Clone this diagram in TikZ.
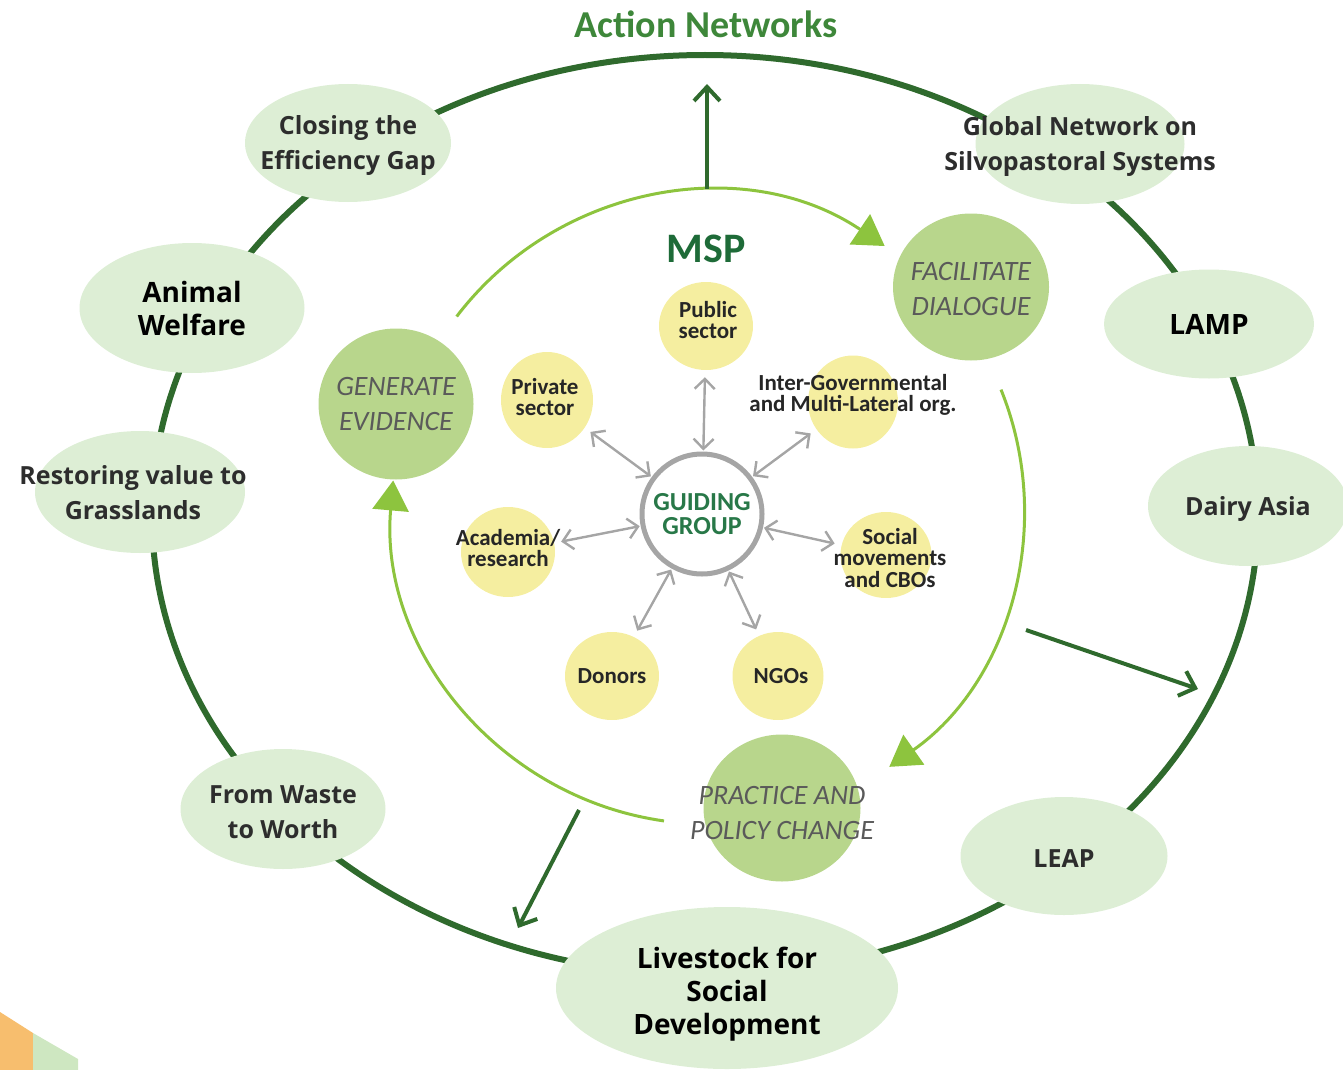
\documentclass[tikz,border=0pt]{standalone}
\usepackage{fontspec}
\setmainfont{Carlito}
\newfontfamily\netfont{Open Sans}
\usetikzlibrary{shapes.geometric,arrows.meta,positioning}
\definecolor{netgreen}{RGB}{47,106,45}
\definecolor{ringfill}{RGB}{221,238,213}
\definecolor{phasefill}{RGB}{184,214,140}
\definecolor{partyfill}{RGB}{245,238,160}
\definecolor{cyclegreen}{RGB}{141,196,62}
\definecolor{titlegreen}{RGB}{62,135,58}
\definecolor{mspgreen}{RGB}{30,107,56}
\definecolor{guidegreen}{RGB}{40,120,72}
\definecolor{linkgray}{RGB}{165,165,165}
\definecolor{textgray}{RGB}{45,45,45}
\definecolor{phasegray}{RGB}{90,90,90}
\definecolor{cornerorange}{RGB}{247,190,110}
\definecolor{cornergreen}{RGB}{206,231,193}
\tikzset{
	netline/.style={draw=netgreen, line width=6pt},
	ringnode/.style={ellipse, fill=ringfill, inner sep=0pt},
	phasenode/.style={ellipse, fill=phasefill, inner sep=0pt},
	partynode/.style={ellipse, fill=partyfill, inner sep=0pt},
	ringlbl/.style={font=\netfont\bfseries\fontsize{25}{35}\selectfont, text=textgray, align=center, yshift=-3pt},
	ringbold/.style={font=\netfont\bfseries\fontsize{28}{33}\selectfont, text=black, align=center},
	phaselbl/.style={font=\itshape\fontsize{28}{35}\selectfont, text=phasegray, align=center},
	partylbl/.style={font=\bfseries\fontsize{23}{21.5}\selectfont, text=black!85, align=center},
	cyclearrow/.style={draw=cyclegreen, line width=3pt, -{Triangle[length=30pt,width=36pt]}},
	outarrow/.style={draw=netgreen, line width=4pt, -{Straight Barb[length=14pt,width=26pt]}},
	linkarrow/.style={draw=linkgray, line width=2.4pt, {Straight Barb[length=10pt,width=20pt]}-{Straight Barb[length=10pt,width=20pt]}, shorten >=7pt, shorten <=1pt},
}
\begin{document}
\begin{tikzpicture}[x=1pt,y=1pt]
	\useasboundingbox (0,0) rectangle (1343,-1070);
	\fill[cornerorange] (0,-1012) -- (33,-1033) -- (33,-1070) -- (0,-1070) -- cycle;
	\fill[cornergreen] (33,-1033) -- (78,-1059) -- (78,-1070) -- (33,-1070) -- cycle;

	\coordinate (hub) at (705,-515);
	\draw[netline] (hub) ellipse [x radius=553, y radius=460];
	\node[font=\bfseries\fontsize{38}{40}\selectfont, text=titlegreen] (title) at (706,-24) {Action Networks};

	\node[ringnode, minimum width=206pt, minimum height=118pt, label={[ringlbl]center:Closing the\\Efficiency Gap}] (closing) at (348,-143) {};
	\node[ringnode, minimum width=209pt, minimum height=120pt, label={[ringlbl]center:Global Network on\\Silvopastoral Systems}] (global) at (1080,-144) {};
	\node[ringnode, minimum width=225pt, minimum height=130pt, label={[ringbold]center:Animal\\Welfare}] (animal) at (192,-308) {};
	\node[ringnode, minimum width=210pt, minimum height=109pt, label={[ringbold]center:LAMP}] (lamp) at (1209,-324) {};
	\node[ringnode, minimum width=210pt, minimum height=122pt, label={[ringlbl, xshift=-7pt, yshift=2pt]center:Restoring value to\\Grasslands}] (grass) at (140,-492) {};
	\node[ringnode, minimum width=200pt, minimum height=120pt, label={[ringlbl]center:Dairy Asia}] (dairy) at (1248,-506) {};
	\node[ringnode, minimum width=205pt, minimum height=120pt, label={[ringlbl]center:From Waste\\to Worth}] (waste) at (283,-809) {};
	\node[ringnode, minimum width=207pt, minimum height=118pt, label={[ringlbl]center:LEAP}] (leap) at (1064,-856) {};
	\node[ringnode, minimum width=342pt, minimum height=162pt, label={[ringbold, yshift=-6pt]center:Livestock for\\Social\\Development}] (social-dev) at (727,-988) {};

	\coordinate (msp) at (708,-508);
	\draw[cyclearrow] ([shift={(142.7:316)}]msp) arc[start angle=142.7, end angle=56, radius=316];
	\draw[cyclearrow] ([shift={(22:316)}]msp) arc[start angle=22, end angle=-55, radius=316];
	\draw[cyclearrow] ([shift={(262:316)}]msp) arc[start angle=262, end angle=175, radius=316];

	\node[font=\bfseries\fontsize{42}{44}\selectfont, text=mspgreen] (msp-title) at (706,-249) {MSP};

	\node[phasenode, minimum width=155pt, minimum height=151pt, label={[phaselbl]center:GENERATE\\EVIDENCE}] (generate) at (396,-404) {};
	\node[phasenode, minimum width=156pt, minimum height=147pt, label={[phaselbl, yshift=-2pt]center:FACILITATE\\DIALOGUE}] (facilitate) at (971,-287) {};
	\node[phasenode, minimum width=157pt, minimum height=147pt, label={[phaselbl, yshift=-5pt]center:PRACTICE AND\\POLICY CHANGE}] (practice) at (782,-808) {};

	\node[partynode, minimum width=94pt, minimum height=88pt, label={[partylbl, xshift=2pt, yshift=6pt]center:Public\\sector}] (public) at (706,-326) {};
	\node[partynode, minimum width=92pt, minimum height=96pt, label={[partylbl, xshift=-2pt, yshift=3pt]center:Private\\sector}] (private) at (547,-400) {};
	\node[partynode, minimum width=90pt, minimum height=93pt, label={[partylbl, yshift=7pt]center:Inter-Governmental\\and Multi-Lateral org.}] (intergov) at (853,-402) {};
	\node[partynode, minimum width=94pt, minimum height=90pt, label={[partylbl, yshift=4pt]center:Academia/\\research}] (academia) at (508,-552) {};
	\node[partynode, minimum width=91pt, minimum height=86pt, label={[partylbl, xshift=4pt, yshift=-3pt]center:Social\\movements\\and CBOs}] (movements) at (886,-555) {};
	\node[partynode, minimum width=94pt, minimum height=88pt, label={[partylbl]center:Donors}] (donors) at (612,-676) {};
	\node[partynode, minimum width=91pt, minimum height=88pt, label={[partylbl, xshift=3pt]center:NGOs}] (ngos) at (778,-676) {};

	\node[circle, draw=linkgray, line width=5pt, fill=white, minimum size=120pt, inner sep=0pt, align=center, text=guidegreen, font=\bfseries\fontsize{26}{24}\selectfont] (guide) at (702,-514) {GUIDING\\GROUP};

	\path[linkarrow]
		(guide) edge (public)
				edge (private)
				edge (intergov)
				edge (academia)
				edge (movements)
				edge (donors)
				edge (ngos);

	\coordinate (up0) at (707,-189);
	\coordinate (up1) at (707,-84);
	\coordinate (right0) at (1026,-630);
	\coordinate (right1) at (1198,-689);
	\coordinate (left0) at (579,-810);
	\coordinate (left1) at (518,-928);
	\draw[outarrow] (up0) -- (up1);
	\draw[outarrow] (right0) -- (right1);
	\draw[outarrow] (left0) -- (left1);
\end{tikzpicture}
\end{document}
